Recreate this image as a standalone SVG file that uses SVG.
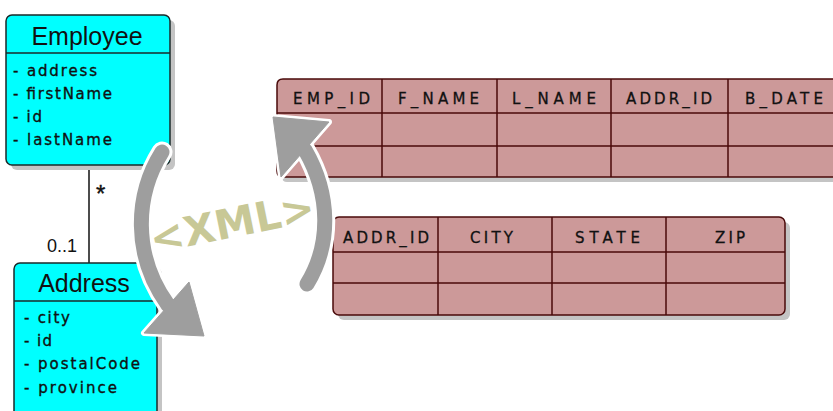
<svg xmlns="http://www.w3.org/2000/svg" width="833" height="411" viewBox="0 0 833 411">
<style>
.cls{fill:#00ffff;stroke:#1a2a2a;stroke-width:1.5}
.shd{fill:#c4c4c4}
.ttl{font-family:"Liberation Sans",Arial,sans-serif;font-size:25px;fill:#111;text-anchor:middle}
.att{font-family:"DejaVu Sans",Verdana,sans-serif;font-size:15px;fill:#111;stroke:#111;stroke-width:0.35}
.tbl{fill:#cc9999;stroke:#4a0a0a;stroke-width:1.5}
.grid{stroke:#4a0a0a;stroke-width:1.5;fill:none}
.col{font-family:"DejaVu Sans",Verdana,sans-serif;font-size:15px;fill:#111;stroke:#111;stroke-width:0.3}
.lbl{font-family:"Liberation Sans",Arial,sans-serif;font-size:18px;fill:#111}
.star{font-family:"Liberation Sans",Arial,sans-serif;font-size:24px;fill:#111;stroke:#111;stroke-width:0.4}
.halo{fill:none;stroke:#ffffff;stroke-width:21;stroke-linecap:round}
.shaft{fill:none;stroke:#9e9e9e;stroke-width:15;stroke-linecap:round}
.headh{fill:#ffffff;stroke:#ffffff;stroke-width:6;stroke-linejoin:round}
.head{fill:#9e9e9e;stroke:#9e9e9e;stroke-width:1;stroke-linejoin:round}
.xml{font-family:"DejaVu Sans",Verdana,sans-serif;font-weight:bold;font-size:41px;fill:#c8c896;text-anchor:middle}
</style>

<g id="table-employee">
  <path class="shd" d="M282,84 H845 V182 H287 Q282,182 282,177 Z"/>
  <path class="tbl" d="M283,79 H845 V177 H283 Q277,177 277,171 V85 Q277,79 283,79 Z"/>
  <line class="grid" x1="277" y1="113" x2="845" y2="113"/>
  <line class="grid" x1="277" y1="146" x2="845" y2="146"/>
  <line class="grid" x1="382" y1="79" x2="382" y2="177"/>
  <line class="grid" x1="497" y1="79" x2="497" y2="177"/>
  <line class="grid" x1="611" y1="79" x2="611" y2="177"/>
  <line class="grid" x1="728" y1="79" x2="728" y2="177"/>
  <text class="col" x="293" y="104" textLength="77" lengthAdjust="spacing">EMP_ID</text>
  <text class="col" x="398" y="104" textLength="81" lengthAdjust="spacing">F_NAME</text>
  <text class="col" x="512" y="104" textLength="84" lengthAdjust="spacing">L_NAME</text>
  <text class="col" x="626" y="104" textLength="86" lengthAdjust="spacing">ADDR_ID</text>
  <text class="col" x="745" y="104" textLength="78" lengthAdjust="spacing">B_DATE</text>
</g>

<g id="table-address">
  <rect class="shd" x="338" y="222" width="452" height="98" rx="6"/>
  <rect class="tbl" x="333" y="217" width="452" height="98" rx="6"/>
  <line class="grid" x1="333" y1="252" x2="785" y2="252"/>
  <line class="grid" x1="333" y1="283" x2="785" y2="283"/>
  <line class="grid" x1="438" y1="217" x2="438" y2="315"/>
  <line class="grid" x1="552" y1="217" x2="552" y2="315"/>
  <line class="grid" x1="666" y1="217" x2="666" y2="315"/>
  <text class="col" x="343" y="243" textLength="86" lengthAdjust="spacing">ADDR_ID</text>
  <text class="col" x="470" y="243" textLength="43" lengthAdjust="spacing">CITY</text>
  <text class="col" x="575" y="243" textLength="65" lengthAdjust="spacing">STATE</text>
  <text class="col" x="715" y="243" textLength="30" lengthAdjust="spacing">ZIP</text>
</g>

<g id="connectors">
  <line x1="89" y1="165" x2="89" y2="263" stroke="#111" stroke-width="1.5"/>
  <text class="star" x="96" y="202">*</text>
  <text class="lbl" x="47" y="252">0..1</text>
</g>

<g id="class-employee">
  <rect class="shd" x="11" y="20" width="164" height="150" rx="6"/>
  <rect class="cls" x="6" y="15" width="164" height="150" rx="6"/>
  <line x1="6" y1="53" x2="170" y2="53" stroke="#1a2a2a" stroke-width="1.5"/>
  <text class="ttl" x="87" y="45">Employee</text>
  <text class="att" x="13" y="76" textLength="84" lengthAdjust="spacing">- address</text>
  <text class="att" x="13" y="99" textLength="99" lengthAdjust="spacing">- firstName</text>
  <text class="att" x="13" y="122" textLength="29" lengthAdjust="spacing">- id</text>
  <text class="att" x="13" y="145" textLength="99" lengthAdjust="spacing">- lastName</text>
</g>

<g id="class-address">
  <rect class="shd" x="19" y="268" width="143" height="160" rx="6"/>
  <rect class="cls" x="14" y="263" width="143" height="160" rx="6"/>
  <line x1="14" y1="301" x2="157" y2="301" stroke="#1a2a2a" stroke-width="1.5"/>
  <text class="ttl" x="84" y="292">Address</text>
  <text class="att" x="24" y="323" textLength="46" lengthAdjust="spacing">- city</text>
  <text class="att" x="24" y="346" textLength="28" lengthAdjust="spacing">- id</text>
  <text class="att" x="24" y="369" textLength="116" lengthAdjust="spacing">- postalCode</text>
  <text class="att" x="24" y="393" textLength="93" lengthAdjust="spacing">- province</text>
</g>

<g id="xml-arrows">
  <path class="halo" d="M162,152 C135,195 132,255 168,305"/>
  <polygon class="headh" points="189,282 144,333 204,336"/>
  <path class="shaft" d="M162,152 C135,195 132,255 168,305"/>
  <polygon class="head" points="189,282 144,333 204,336"/>
  <path class="halo" d="M307,284 C331,245 331,195 305,150"/>
  <polygon class="headh" points="273,117 329,122 281,177"/>
  <path class="shaft" d="M307,284 C331,245 331,195 305,150"/>
  <polygon class="head" points="273,117 329,122 281,177"/>
  <text class="xml" x="235" y="237" transform="rotate(-11.5 235 237)">&lt;XML&gt;</text>
</g>
</svg>
